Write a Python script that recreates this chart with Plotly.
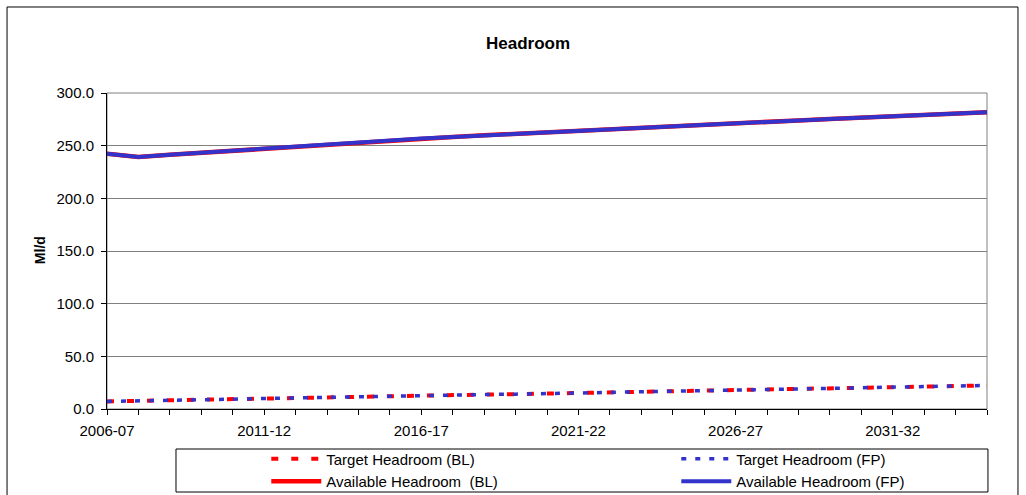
import plotly.graph_objects as go

categories = [
    "2006-07", "2007-08", "2008-09", "2009-10", "2010-11", "2011-12", "2012-13",
    "2013-14", "2014-15", "2015-16", "2016-17", "2017-18", "2018-19", "2019-20",
    "2020-21", "2021-22", "2022-23", "2023-24", "2024-25", "2025-26", "2026-27",
    "2027-28", "2028-29", "2029-30", "2030-31", "2031-32", "2032-33", "2033-34",
    "2034-35",
]
tick_labels = ["2006-07", "2011-12", "2016-17", "2021-22", "2026-27", "2031-32"]

target_bl = [7.2, 7.8, 8.3, 8.9, 9.4, 10.0, 10.5, 11.1, 11.7, 12.2, 12.7, 13.2,
             13.7, 14.1, 14.6, 15.1, 15.6, 16.1, 16.6, 17.2, 17.8, 18.4, 19.0,
             19.6, 20.1, 20.7, 21.3, 21.8, 22.4]
target_fp = [7.2, 7.8, 8.3, 8.9, 9.4, 10.0, 10.5, 11.1, 11.7, 12.2, 12.7, 13.2,
             13.7, 14.1, 14.6, 15.1, 15.6, 16.1, 16.6, 17.2, 17.8, 18.4, 19.0,
             19.6, 20.1, 20.7, 21.3, 21.8, 22.4]
available_bl = [242.4, 239.3, 241.3, 243.3, 245.3, 247.3, 249.3, 251.3, 253.3,
                255.3, 256.8, 258.3, 259.8, 261.3, 262.8, 264.3, 265.8, 267.4,
                268.9, 270.2, 271.5, 272.7, 274.0, 275.3, 276.6, 277.9, 279.1,
                280.4, 281.7]
available_fp = [242.4, 239.3, 241.3, 243.3, 245.3, 247.3, 249.3, 251.3, 253.3,
                255.3, 256.8, 258.3, 259.8, 261.3, 262.8, 264.3, 265.8, 267.4,
                268.9, 270.2, 271.5, 272.7, 274.0, 275.3, 276.6, 277.9, 279.1,
                280.4, 281.7]

RED = "#FF0000"
BLUE = "#3333CC"
FONT = "Liberation Sans, Arial, sans-serif"

fig = go.Figure()
fig.add_trace(go.Scatter(x=categories, y=target_bl, name="Target Headroom (BL)",
                         mode="lines", line=dict(color=RED, width=4, dash="7px,13px")))
fig.add_trace(go.Scatter(x=categories, y=target_fp, name="Target Headroom (FP)",
                         mode="lines", line=dict(color=BLUE, width=3.5, dash="5px,9px")))
fig.add_trace(go.Scatter(x=categories, y=available_bl, name="Available Headroom \u00a0(BL)",
                         mode="lines", line=dict(color=RED, width=4.5)))
fig.add_trace(go.Scatter(x=categories, y=available_fp, name="Available Headroom (FP)",
                         mode="lines", line=dict(color=BLUE, width=4)))

ticktext = [c if c in tick_labels else "" for c in categories]

fig.update_layout(
    width=1026, height=495,
    margin=dict(l=107, r=39, t=93, b=86, autoexpand=False),
    paper_bgcolor="white", plot_bgcolor="white",
    font=dict(family=FONT, color="black", size=15),
    showlegend=True,
    legend=dict(
        orientation="h", x=0.1810, xanchor="left", y=-0.1060, yanchor="top",
        itemwidth=50, entrywidth=345, entrywidthmode="pixels",
        font=dict(family=FONT, size=15, color="black"),
        bgcolor="rgba(0,0,0,0)", borderwidth=0,
        traceorder="normal",
    ),
    xaxis=dict(
        type="category", range=[0, 28],
        tickmode="array", tickvals=categories, ticktext=ticktext, tickangle=0,
        ticks="outside", ticklen=5, tickcolor="black", tickwidth=1,
        ticklabelstandoff=3,
        showline=True, linecolor="black", linewidth=1,
        showgrid=False, zeroline=False,
        tickfont=dict(family=FONT, size=15, color="black"),
    ),
    yaxis=dict(
        range=[0, 300], dtick=50, tick0=0, tickformat=".1f",
        ticks="outside", ticklen=5, tickcolor="black", tickwidth=1,
        ticklabelstandoff=4,
        showline=True, linecolor="black", linewidth=1,
        showgrid=True, gridcolor="#808080", gridwidth=1, zeroline=False,
        tickfont=dict(family=FONT, size=15, color="black"),
    ),
    annotations=[
        dict(text="<b>Headroom</b>", xref="paper", yref="paper",
             x=0.478, y=1.158, xanchor="center", yanchor="middle", showarrow=False,
             font=dict(family=FONT, size=17, color="black")),
        dict(text="<b>Ml/d</b>", xref="paper", yref="paper",
             x=-0.076, y=0.503, xanchor="center", yanchor="middle", showarrow=False,
             textangle=-90, font=dict(family=FONT, size=14, color="black")),
    ],
    shapes=[
        # plot area border
        dict(type="rect", xref="paper", yref="paper", x0=0, x1=1, y0=0, y1=1,
             line=dict(color="#808080", width=1), layer="below"),
        # legend box
        dict(type="rect", xref="paper", yref="paper", x0=0.0784, x1=1.0011,
             y0=-0.2627, y1=-0.1266, line=dict(color="black", width=1)),
        # chart area border
        dict(type="rect", xref="paper", yref="paper", x0=-0.1136, x1=1.0352,
             y0=-0.31, y1=1.2722, line=dict(color="black", width=1)),
    ],
)

fig.write_html("out.html", config={"displayModeBar": False},
               post_script="document.body.style.margin='0';")
